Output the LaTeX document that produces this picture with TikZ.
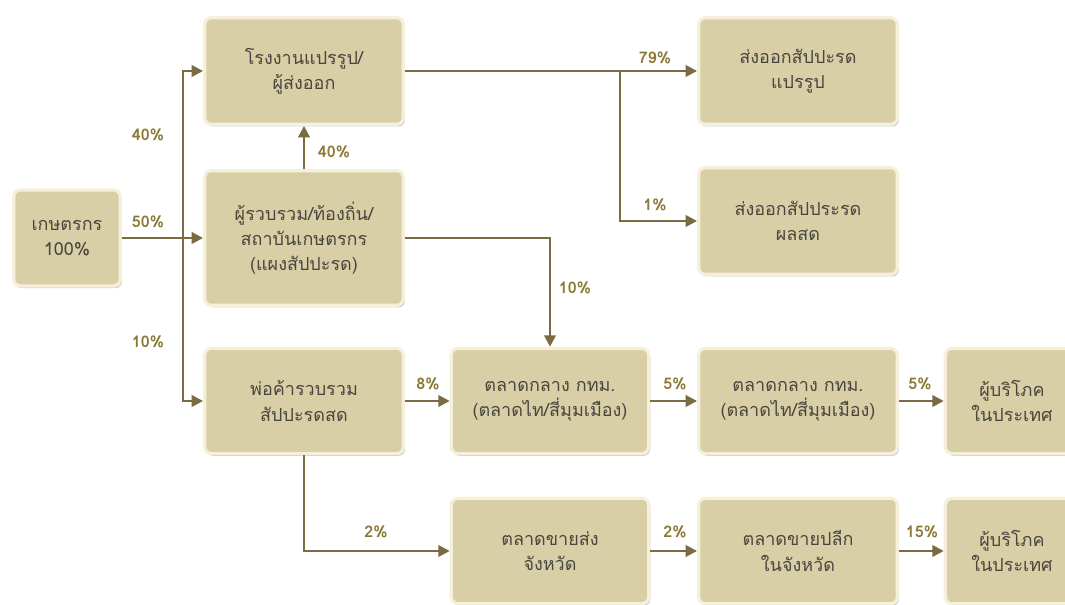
\documentclass[tikz,border=0pt]{standalone}
\usepackage{fontspec}
\setmainfont[Script=Thai]{Loma}
\usetikzlibrary{arrows.meta,shadows}
\definecolor{boxfill}{RGB}{217,207,166}
\definecolor{boxline}{RGB}{246,240,219}
\definecolor{flowline}{RGB}{123,107,67}
\definecolor{pctext}{RGB}{138,120,52}
\definecolor{boxtext}{RGB}{72,70,62}
\tikzset{
  stage/.style={draw=boxline, line width=2.4pt, fill=boxfill, rounded corners=5pt,
    minimum width=149pt, minimum height=80pt, align=center, text=boxtext,
    font=\fontsize{13.5}{19}\selectfont,
    drop shadow={shadow xshift=1.2pt, shadow yshift=-1.6pt, opacity=0.35, fill=black!60}},
  flow/.style={draw=flowline, line width=1.9pt, -{Triangle[length=8.5pt,width=8.5pt]}},
  pct/.style={text=pctext, font=\bfseries\fontsize{12}{14}\selectfont, inner sep=0.75pt},
}
\begin{document}
\begin{tikzpicture}[x=0.75pt,y=0.75pt,yscale=-1,xscale=1]
    \useasboundingbox (0,0) rectangle (1065,605);
    %Shape: Rectangle [id:farmer]
    \node[stage, minimum width=80pt, minimum height=72pt] (farmer) at (67,238) {เกษตรกร\\100\%};
    %Shape: Rectangle [id:proc]
    \node[stage] (proc) at (304,71) {โรงงานแปรรูป/\\ผู้ส่งออก};
    %Shape: Rectangle [id:coll]
    \node[stage, minimum height=101pt] (coll) at (304,238) {ผู้รวบรวม/ท้องถิ่น/\\สถาบันเกษตรกร\\(แผงสัปปะรด)};
    %Shape: Rectangle [id:expproc]
    \node[stage] (expproc) at (798,71) {ส่งออกสัปปะรด\\แปรรูป};
    %Shape: Rectangle [id:expfresh]
    \node[stage] (expfresh) at (798,221) {ส่งออกสัปประรด\\ผลสด};
    %Shape: Rectangle [id:trader]
    \node[stage, minimum height=79pt] (trader) at (304,401) {พ่อค้ารวบรวม\\สัปปะรดสด};
    %Shape: Rectangle [id:cent1]
    \node[stage, minimum width=148pt, minimum height=79pt] (cent1) at (550,401) {ตลาดกลาง กทม.\\(ตลาดไท/สี่มุมเมือง)};
    %Shape: Rectangle [id:cent2]
    \node[stage, minimum height=79pt] (cent2) at (798,401) {ตลาดกลาง กทม.\\(ตลาดไท/สี่มุมเมือง)};
    %Shape: Rectangle [id:cons1]
    \node[stage, minimum width=100pt, minimum height=79pt, text width=90pt] (cons1) at (1012,401) {ผู้บริโภค\\ในประเทศ};
    %Shape: Rectangle [id:whole]
    \node[stage, minimum width=148pt, minimum height=79pt] (whole) at (550,551) {ตลาดขายส่ง\\จังหวัด};
    %Shape: Rectangle [id:retail]
    \node[stage, minimum height=79pt] (retail) at (798,551) {ตลาดขายปลีก\\ในจังหวัด};
    %Shape: Rectangle [id:cons2]
    \node[stage, minimum width=100pt, minimum height=79pt, text width=90pt] (cons2) at (1012,551) {ผู้บริโภค\\ในประเทศ};

    %Straight Lines [id:split]
    \path (farmer.east) -- (coll.west) coordinate[pos=0.75] (split);
    \path (proc.east) -- (expproc.west) coordinate[pos=0.736] (branch);
    \draw[flow] (farmer.east) -- (coll.west);
    \draw[flow] (split) |- (proc.west);
    \draw[flow] (split) |- (trader.west);
    \draw[flow] (coll.north) -- (proc.south);
    \draw[flow] (proc.east) -- (expproc.west);
    \draw[flow] (branch) |- (expfresh.west);
    \draw[flow] (coll.east) -| (cent1.north);
    \draw[flow] (trader.east) -- (cent1.west);
    \draw[flow] (cent1.east) -- (cent2.west);
    \draw[flow] (cent2.east) -- (cons1.west);
    \draw[flow] (trader.south) |- (whole.west);
    \draw[flow] (whole.east) -- (retail.west);
    \draw[flow] (retail.east) -- (cons2.west);

    % Text Node
    \node[pct] (pfactory) at (148,135) {40\%};
    % Text Node
    \node[pct] (pcollect) at (148,222) {50\%};
    % Text Node
    \node[pct] (ptrader) at (148,342) {10\%};
    % Text Node
    \node[pct] (pup) at (334,152) {40\%};
    % Text Node
    \node[pct] (pexpproc) at (655,58) {79\%};
    % Text Node
    \node[pct] (pexpfresh) at (655,205) {1\%};
    % Text Node
    \node[pct] (pdown) at (575,288) {10\%};
    % Text Node
    \node[pct] (pcent1) at (428,384) {8\%};
    % Text Node
    \node[pct] (pcent2) at (675,384) {5\%};
    % Text Node
    \node[pct] (pcons1) at (920,384) {5\%};
    % Text Node
    \node[pct] (pwhole) at (376,532) {2\%};
    % Text Node
    \node[pct] (pretail) at (675,532) {2\%};
    % Text Node
    \node[pct] (pcons2) at (922,532) {15\%};
\end{tikzpicture}
\end{document}
